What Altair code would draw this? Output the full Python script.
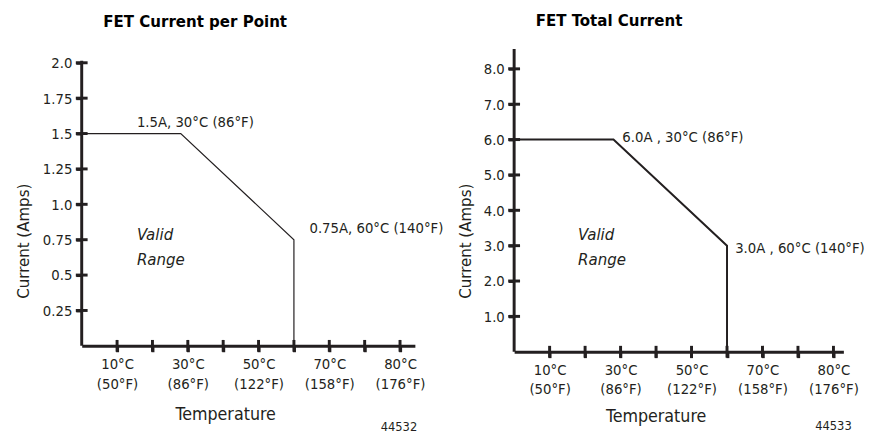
import altair as alt
import pandas as pd

FONT = "Liberation Sans Narrow, DejaVu Sans Condensed, sans-serif"
INK = "#231f20"

# ---------------- data ----------------
x_ticks = [10, 20, 30, 40, 50, 60, 70, 80, 90]
x_label_pos = [10, 30, 50, 70, 90]
x_label_c = ["10°C", "30°C", "50°C", "70°C", "80°C"]
x_label_f = ["(50°F)", "(86°F)", "(122°F)", "(158°F)", "(176°F)"]

left_title = "FET Current per Point"
left_y_ticks = [0.25, 0.5, 0.75, 1.0, 1.25, 1.5, 1.75, 2.0]
left_y_labels = ["0.25", "0.5", "0.75", "1.0", "1.25", "1.5", "1.75", "2.0"]
left_curve_x = [0, 28, 60, 60]
left_curve_y = [1.5, 1.5, 0.75, 0]
left_notes = ["1.5A, 30°C (86°F)", "0.75A, 60°C (140°F)"]
left_note_x = [15.6, 64.4]
left_note_y = [1.58, 0.83]
left_valid_x = 15.6
left_valid_y = [0.785, 0.604]
left_fig = "44532"
left_fig_x = 89.7
left_fig_y = -0.576

right_title = "FET Total Current"
right_y_ticks = [1, 2, 3, 4, 5, 6, 7, 8]
right_y_labels = ["1.0", "2.0", "3.0", "4.0", "5.0", "6.0", "7.0", "8.0"]
right_curve_x = [0, 28, 60, 60]
right_curve_y = [6.0, 6.0, 3.0, 0]
right_notes = ["6.0A , 30°C (86°F)", "3.0A , 60°C (140°F)"]
right_note_x = [30.5, 62.3]
right_note_y = [6.06, 2.94]
right_valid_x = 18.0
right_valid_y = [3.3, 2.58]
right_fig = "44533"
right_fig_x = 90.0
right_fig_y = -2.1

valid_words = ["Valid", "Range"]
x_axis_title = "Temperature"
y_axis_title = "Current (Amps)"


def label_expr(values, labels):
    parts = []
    for v, l in zip(values, labels):
        if isinstance(l, list):
            lit = "[" + ",".join("'" + s + "'" for s in l) + "]"
        else:
            lit = "'" + l + "'"
        parts.append(f"abs(datum.value - {v}) < 1e-6 ? {lit} : ")
    return "".join(parts) + "''"


x_lab = label_expr(x_label_pos, [[c, f] for c, f in zip(x_label_c, x_label_f)])


def panel(title, xdom, ydom, ytop, w, h, yticks, ylabels, cx, cy, lw,
          notes, nx, ny, vx, vy, fig, fx, fy,
          ytx, yty, xtx, xty):
    xs = alt.Scale(domain=xdom, nice=False, zero=False)
    ys = alt.Scale(domain=ydom, nice=False, zero=False)
    xaxis = alt.Axis(values=x_ticks, labelExpr=x_lab, title=x_axis_title,
                     tickSize=6, tickWidth=3, tickColor=INK,
                     domainWidth=3, domainColor=INK, labelPadding=5,
                     labelLineHeight=20, labelFontSize=15, labelColor=INK,
                     labelFont=FONT, labelOverlap=False, labelBound=False,
                     labelFlush=False, grid=False,
                     titleFont=FONT, titleFontSize=18, titleFontWeight="normal",
                     titleColor=INK, titleX=xtx, titleY=xty,
                     titleBaseline="middle", titleAnchor="start", titleAlign="center")
    yaxis = alt.Axis(values=yticks, labelExpr=label_expr(yticks, ylabels),
                     title=y_axis_title, domain=False,
                     tickSize=6, tickWidth=3, tickColor=INK,
                     labelPadding=4,
                     labelFontSize=15, labelColor=INK, labelFont=FONT,
                     labelOverlap=False, labelBound=False, labelFlush=False,
                     grid=False, titleFont=FONT, titleFontSize=17,
                     titleFontWeight="normal", titleColor=INK,
                     titleX=ytx, titleY=yty, titleBaseline="middle",
                     titleAnchor="start", titleAlign="center", titleAngle=270)

    curve = pd.DataFrame({"x": cx, "y": cy, "o": list(range(len(cx)))})
    base = alt.Chart(curve).mark_line(color=INK, strokeWidth=lw).encode(
        x=alt.X("x:Q", scale=xs, axis=xaxis),
        y=alt.Y("y:Q", scale=ys, axis=yaxis),
        order="o:Q",
    )
    yline = alt.Chart(pd.DataFrame({"x": [0], "y": [0], "y2": [ytop]})).mark_rule(
        color=INK, strokeWidth=3).encode(
        x=alt.X("x:Q", scale=xs), y=alt.Y("y:Q", scale=ys), y2="y2:Q")
    xt = pd.DataFrame({"x": x_ticks, "y": [0] * len(x_ticks)})
    xtick = alt.Chart(xt).mark_tick(orient="vertical", size=12, thickness=3,
                                    color=INK, opacity=1).encode(
        x=alt.X("x:Q", scale=xs), y=alt.Y("y:Q", scale=ys))
    yt = pd.DataFrame({"x": [0] * len(yticks), "y": yticks})
    ytick = alt.Chart(yt).mark_tick(orient="horizontal", size=12, thickness=3,
                                    color=INK, opacity=1).encode(
        x=alt.X("x:Q", scale=xs), y=alt.Y("y:Q", scale=ys))
    nd = pd.DataFrame({"x": nx, "y": ny, "t": notes})
    note = alt.Chart(nd).mark_text(align="left", baseline="middle", font=FONT,
                                   fontSize=15, color=INK).encode(
        x=alt.X("x:Q", scale=xs), y=alt.Y("y:Q", scale=ys), text="t:N")
    vd = pd.DataFrame({"x": [vx] * len(valid_words), "y": vy, "t": valid_words})
    valid = alt.Chart(vd).mark_text(align="left", baseline="middle", font=FONT,
                                    fontSize=17, fontStyle="italic",
                                    color=INK).encode(
        x=alt.X("x:Q", scale=xs), y=alt.Y("y:Q", scale=ys), text="t:N")
    fd = pd.DataFrame({"x": [fx], "y": [fy], "t": [fig]})
    figt = alt.Chart(fd).mark_text(align="center", baseline="middle", font=FONT,
                                   fontSize=13, color=INK).encode(
        x=alt.X("x:Q", scale=xs), y=alt.Y("y:Q", scale=ys), text="t:N")
    return alt.layer(base, yline, xtick, ytick, note, valid, figt).properties(
        width=w, height=h,
        title=alt.TitleParams(title, anchor="start", frame="group", dx=22,
                              offset=18, font=FONT, fontSize=17,
                              fontWeight="bold", color="#000000"),
    )


left = panel(left_title, [0, 94.2], [0, 2.097], 2.014, 339, 302,
             left_y_ticks, left_y_labels, left_curve_x, left_curve_y, 1.2,
             left_notes, left_note_x, left_note_y, left_valid_x, left_valid_y,
             left_fig, left_fig_x, left_fig_y, -59, 195, 146, 70)
right = panel(right_title, [0, 92.8], [0, 8.56], 8.56, 335, 308,
              right_y_ticks, right_y_labels, right_curve_x, right_curve_y, 2,
              right_notes, right_note_x, right_note_y, right_valid_x, right_valid_y,
              right_fig, right_fig_x, right_fig_y, -49, 195, 144, 66)

chart = alt.hconcat(left, right, spacing=13).configure_view(stroke=None).properties(
    padding={"left": 7, "top": 0, "right": 0, "bottom": 0})

chart.save("out.html", embed_options={"renderer": "svg", "actions": False})
